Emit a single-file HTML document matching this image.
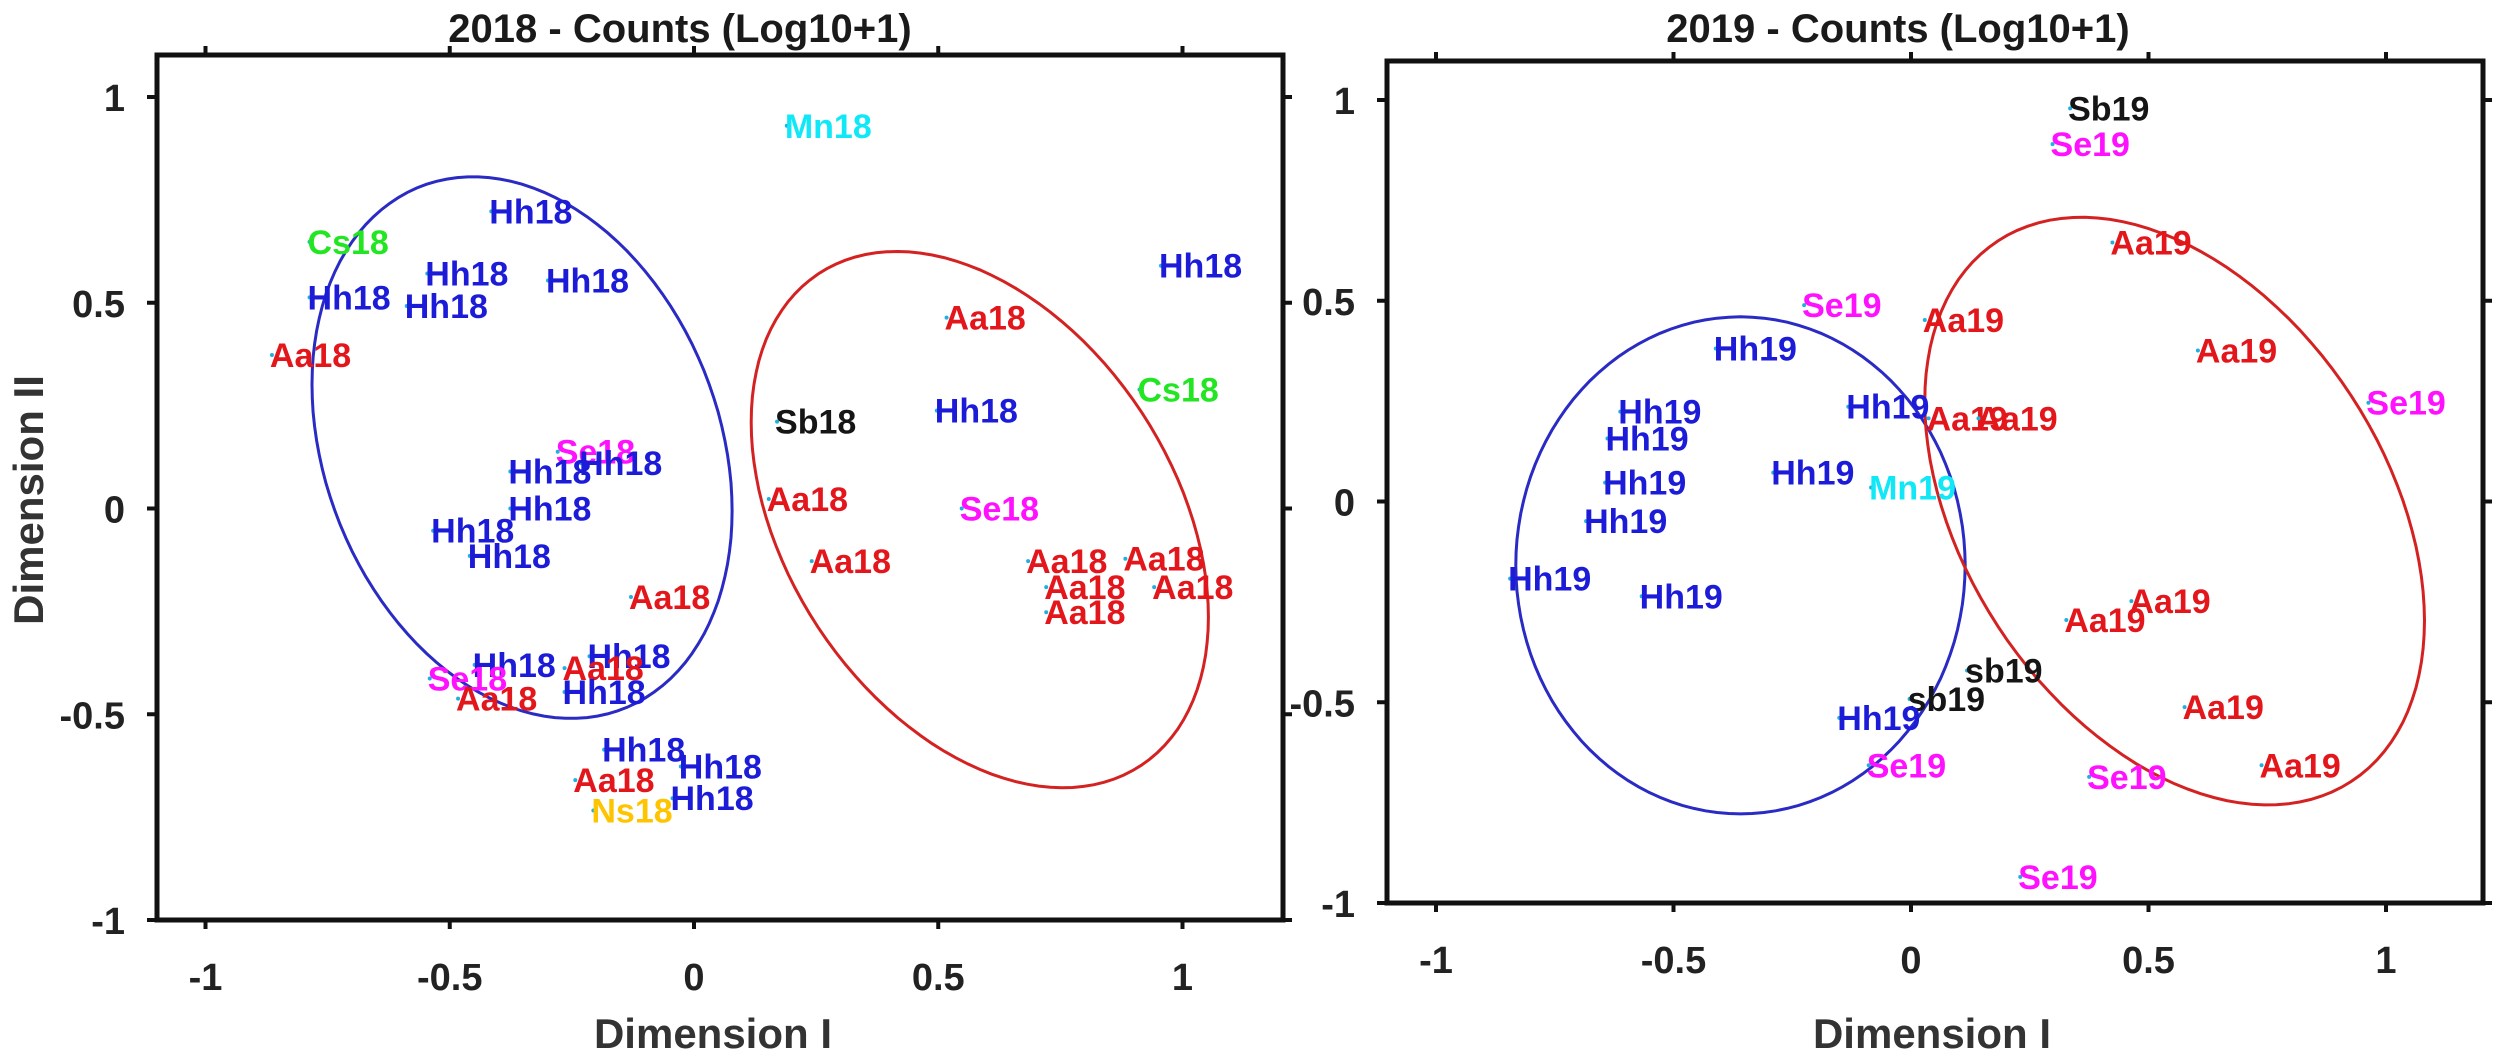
<!DOCTYPE html>
<html><head><meta charset="utf-8"><style>
html,body{margin:0;padding:0;background:#fff;}
svg{display:block;}
text{font-family:"Liberation Sans",Arial,sans-serif;font-weight:bold;}
</style></head><body>
<svg id="chart" width="2500" height="1059" viewBox="0 0 2500 1059" xmlns="http://www.w3.org/2000/svg">
<g id="p18"></g>
<g id="p19"></g>
</svg>
<script>
const labels18=["Mn18","Hh18","Cs18","Hh18","Hh18","Hh18","Hh18","Aa18","Hh18","Aa18","Cs18","Sb18","Hh18","Se18","Hh18","Hh18","Hh18","Hh18","Hh18","Aa18","Se18","Aa18","Aa18","Aa18","Aa18","Aa18","Aa18","Aa18","Hh18","Hh18","Aa18","Se18","Aa18","Hh18","Hh18","Hh18","Aa18","Hh18","Ns18"];
const x18=[0.19,-0.415,-0.787,-0.546,-0.299,-0.787,-0.588,-0.864,0.956,0.517,0.912,0.170,0.497,-0.279,-0.231,-0.376,-0.376,-0.534,-0.459,0.153,0.548,0.241,-0.129,0.684,0.883,0.721,0.942,0.721,-0.449,-0.214,-0.265,-0.541,-0.483,-0.265,-0.184,-0.027,-0.243,-0.044,-0.206];
const y18=[0.93,0.722,0.648,0.571,0.554,0.513,0.492,0.373,0.590,0.464,0.289,0.211,0.238,0.138,0.110,0.090,0.0,-0.054,-0.115,0.023,0.0,-0.128,-0.215,-0.128,-0.122,-0.191,-0.191,-0.252,-0.380,-0.359,-0.388,-0.413,-0.462,-0.446,-0.586,-0.627,-0.660,-0.704,-0.734];
const labels19=["Sb19","Se19","Aa19","Se19","Aa19","Hh19","Aa19","Se19","Hh19","Hh19","Aa19","Aa19","Hh19","Hh19","Hh19","Mn19","Hh19","Hh19","Hh19","Aa19","Aa19","sb19","sb19","Hh19","Aa19","Se19","Se19","Aa19","Se19"];
const x19=[0.335,0.298,0.424,-0.225,0.029,-0.411,0.604,0.963,-0.612,-0.132,0.037,0.142,-0.639,-0.290,-0.644,-0.084,-0.684,-0.844,-0.567,0.464,0.327,0.118,-0.003,-0.151,0.576,-0.089,0.375,0.738,0.230];
const y19=[0.979,0.890,0.645,0.489,0.452,0.381,0.376,0.246,0.224,0.236,0.207,0.207,0.157,0.072,0.047,0.035,-0.049,-0.192,-0.236,-0.248,-0.295,-0.421,-0.492,-0.539,-0.512,-0.657,-0.686,-0.657,-0.935];
// ellipses: [cx, cy, a11, a21, a22] in data units
const ell18Blue=[-0.352,0.148,0.43,-0.1536,0.640];
const ell18Red=[0.585,-0.027,0.468,-0.237,0.607];
const ell19Blue=[-0.359,-0.159,0.473,0.0,0.619];
const ell19Red=[0.555,-0.024,0.526,-0.273,0.679];
const xTicks=[-1,-0.5,0,0.5,1];
const yTicks=[-1,-0.5,0,0.5,1];
const tickText=["-1","-0.5","0","0.5","1"];
const colorOf={Hh:"#1c1cd8",Aa:"#e3161b",Se:"#ff10ff",Cs:"#22e622",Mn:"#10e8f8",Sb:"#151515",sb:"#151515",Ns:"#ffc400"};
const NS="http://www.w3.org/2000/svg";
function mk(tag,attrs,parent){const e=document.createElementNS(NS,tag);for(const k in attrs)e.setAttribute(k,attrs[k]);parent.appendChild(e);return e;}

function panel(g,cfg,labels,xs,ys,ells){
  const X=v=>cfg.x0+cfg.ux*v, Y=v=>cfg.y0-cfg.uy*v;
  const t=mk("text",{x:cfg.titleX,y:42,"text-anchor":"middle","font-size":"40",fill:"#1a1a1a"},g);t.textContent=cfg.title;
  
  
  // ellipses
  ells.forEach((e,i)=>{let d="";for(let k=0;k<=120;k++){const a=k/120*2*Math.PI;const dx=e[0]+e[2]*Math.cos(a),dy=e[1]+e[3]*Math.cos(a)+e[4]*Math.sin(a);d+=(k?"L":"M")+X(dx).toFixed(1)+","+Y(dy).toFixed(1);}
    const p=mk("path",{d:d+"Z",fill:"none",stroke:i==0?"#2a2ac4":"#d42222","stroke-width":"3"},g);
    
    });
  // points
  labels.forEach((l,i)=>{const px=X(xs[i]),py=Y(ys[i]);
    const c=mk("circle",{cx:px,cy:py,r:2,fill:"#20b0e0"},g);
    
    
    const tx=mk("text",{x:px-2,y:py+12,"font-size":"34",fill:colorOf[l.slice(0,2)]},g);tx.textContent=l;
    
    });
  // box
  const b=mk("rect",{x:cfg.L,y:cfg.T,width:cfg.R-cfg.L,height:cfg.B-cfg.T,fill:"none",stroke:"#111","stroke-width":"5"},g);
  
  
  xTicks.forEach((v,i)=>{const px=X(v);
    mk("line",{x1:px,x2:px,y1:cfg.B,y2:cfg.B+9,stroke:"#111","stroke-width":"4"},g);
    mk("line",{x1:px,x2:px,y1:cfg.T,y2:cfg.T-9,stroke:"#111","stroke-width":"4"},g);
    const tl=mk("text",{x:px,y:cfg.B+70,"text-anchor":"middle","font-size":"38",fill:"#222"},g);tl.textContent=tickText[i];
    
    });
  yTicks.forEach((v,i)=>{const py=Y(v);
    mk("line",{x1:cfg.L-10,x2:cfg.L,y1:py,y2:py,stroke:"#111","stroke-width":"4"},g);
    mk("line",{x1:cfg.R,x2:cfg.R+9,y1:py,y2:py,stroke:"#111","stroke-width":"4"},g);
    const tl=mk("text",{x:cfg.L-32,y:py+14,"text-anchor":"end","font-size":"38",fill:"#222"},g);tl.textContent=tickText[i];
    
    });
  const xl=mk("text",{x:cfg.xlabX,y:1048,"text-anchor":"middle","font-size":"42",fill:"#333"},g);xl.textContent="Dimension I";
  
  
  if(cfg.ylab){const yl=mk("text",{x:0,y:0,"text-anchor":"middle","font-size":"42",fill:"#333",transform:"translate(43,500) rotate(-90)"},g);yl.textContent="Dimension II";
    
    }
}
panel(document.getElementById("p18"),{x0:694,ux:488.5,y0:508.5,uy:411.5,L:157,R:1283,T:55,B:920,title:"2018 - Counts (Log10+1)",titleX:680,xlabX:713,ylab:true},labels18,x18,y18,[ell18Blue,ell18Red]);
panel(document.getElementById("p19"),{x0:1911,ux:475,y0:501.5,uy:401.5,L:1387,R:2483,T:61,B:903,title:"2019 - Counts (Log10+1)",titleX:1898,xlabX:1932,ylab:false},labels19,x19,y19,[ell19Blue,ell19Red]);
</script>
</body></html>
